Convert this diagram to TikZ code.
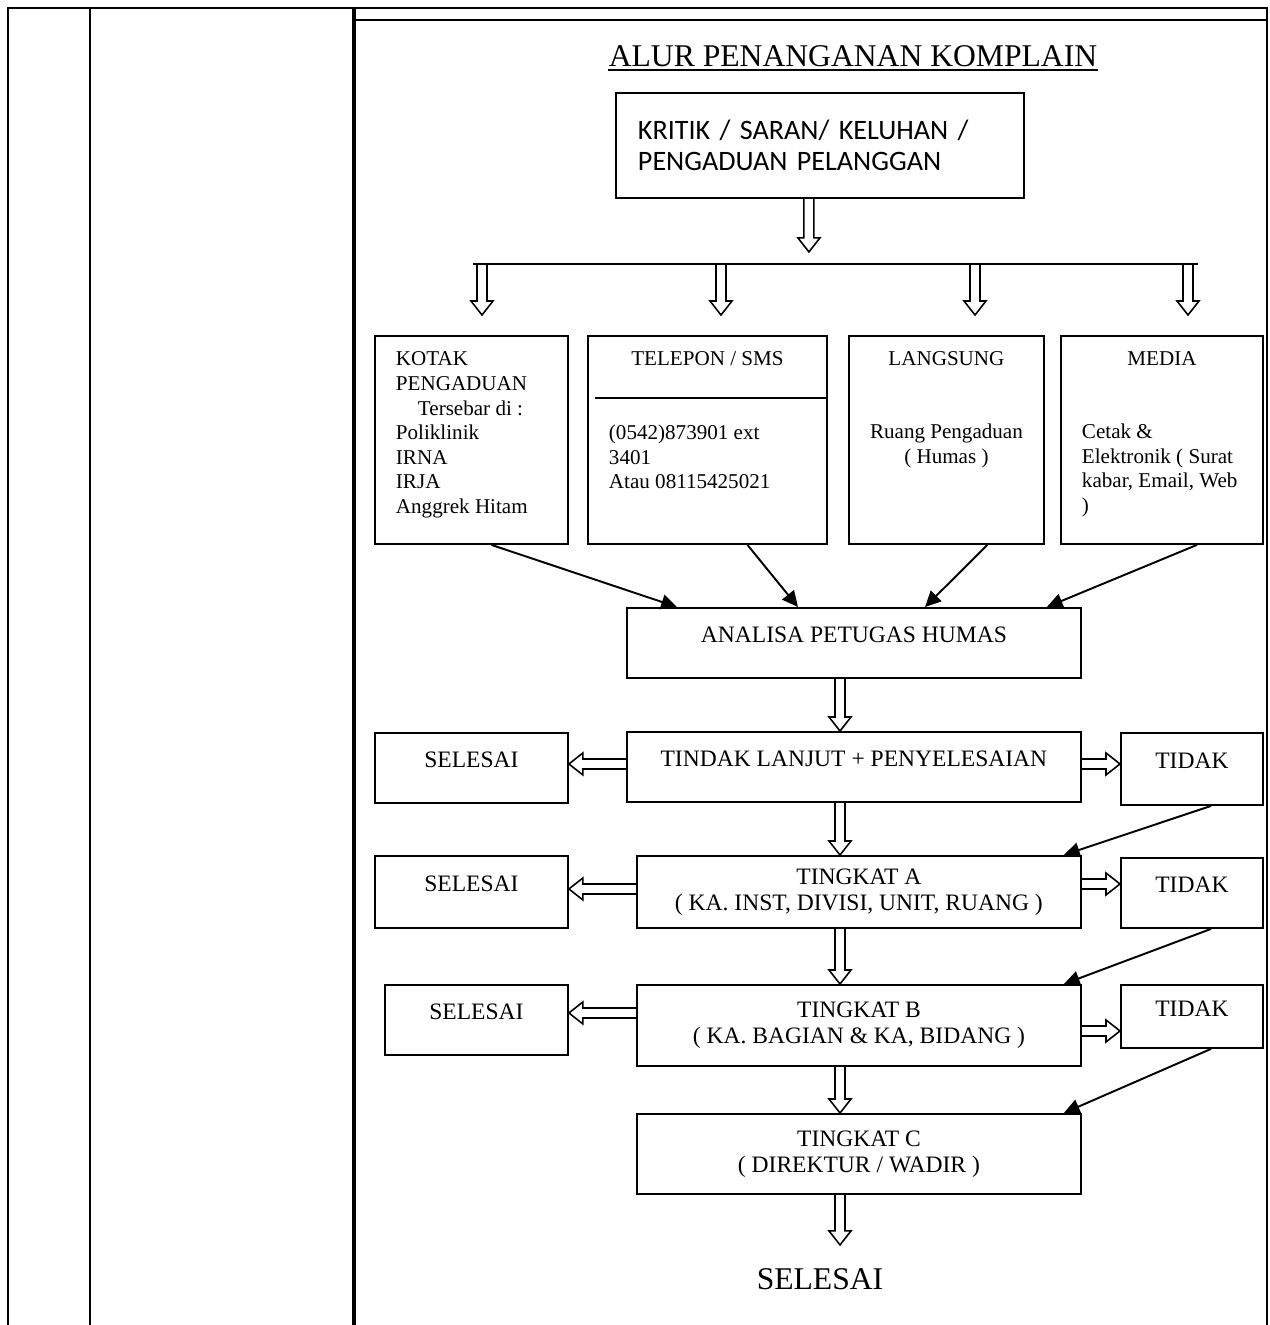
\documentclass[tikz,border=0pt]{standalone}
\usepackage{fontspec}
\setmainfont{Liberation Serif}
\newfontfamily\calibri{Carlito}
\usetikzlibrary{arrows.meta,calc,positioning}

\tikzset{
  box/.style={draw, line width=1.1pt, anchor=north west, align=center, inner sep=0pt, font=\fontsize{13.4}{15}\selectfont},
  oneline/.style={text height=9pt, text depth=9pt},
  srcbox/.style={draw, line width=1.1pt, anchor=north west, inner xsep=0.42cm, inner ysep=0.32cm, font=\fontsize{12}{14}\selectfont},
  dblarr/.style={line width=0.9pt, line join=miter},
  arr/.style={line width=1.1pt, -{Triangle[length=9pt,width=8.5pt]}},
  grid/.style={line width=1.1pt}
}

% hollow (double) arrow from #1 to #2
\newcommand{\hollowarr}[2]{%
  \coordinate (hb) at ($(#2)!0.28cm!(#1)$);
  \draw[dblarr] ($(#1)!0.1cm!90:(#2)$) -- ($(hb)!0.1cm!90:(#2)$)
    -- ($(hb)!0.22cm!90:(#2)$) -- (#2) -- ($(hb)!0.22cm!-90:(#2)$)
    -- ($(hb)!0.1cm!-90:(#2)$) -- ($(#1)!0.1cm!-90:(#2)$);
}

\begin{document}
\begin{tikzpicture}[x=0.02cm, y=-0.02cm]
    \useasboundingbox (0,0) rectangle (1270,1325);

    % Table
    \draw[grid] (8,1325) -- (8,8) -- (1267,8) -- (1267,1325);
    \draw[grid] (90,8) -- (90,1325);
    \draw[line width=2pt] (354,8) -- (354,1325);
    \draw[grid] (354,20) -- (1267,20);

    % Title
    \node[inner sep=0pt, font=\fontsize{18}{20}\selectfont] (title) at (853,56) {ALUR PENANGANAN KOMPLAIN};
    \draw[line width=1.2pt] ($(title.base west)+(0,4)$) -- ($(title.base east)+(0,4)$);

    % Source
    \node[draw, line width=1.1pt, anchor=north west, minimum width=8.16cm, minimum height=2.1cm,
          text width=7.28cm, inner xsep=0.44cm, align=left, font=\calibri\fontsize{16}{17.5}\selectfont]
          (kritik) at (615,92) {KRITIK / SARAN/ KELUHAN /\\PENGADUAN PELANGGAN};

    \coordinate (k1) at ($(kritik.south)+(-11,0)$);
    \coordinate (k2) at ($(k1)+(0,53)$);
    \hollowarr{k1}{k2}

    % Bus
    \coordinate (busl) at (473,264);
    \coordinate (busr) at (1198,264);
    \draw[grid] (busl) -- (busr);
    \foreach \bx/\nm in {482/kotak,721/tel,975/lang,1188/med} {
        \coordinate (b\nm) at (\bx,264);
        \coordinate (e\nm) at (\bx,315);
        \hollowarr{b\nm}{e\nm}
    }

    % Channels
    \node[srcbox] (kotak) at (374,335) {\parbox[t][3.52cm][t]{3.02cm}{\raggedright
        KOTAK\\PENGADUAN\\\hspace*{0.44cm}Tersebar di :\\Poliklinik\\IRNA\\IRJA\\Anggrek Hitam}};
    \node[srcbox] (tel) at (587,335) {\parbox[t][3.52cm][t]{3.94cm}{\parskip=0pt
        {\centering TELEPON / SMS\par}\vspace{28pt}\raggedright
        (0542)873901 ext\\3401\\Atau 08115425021}};
    \draw[grid] ($(tel.north west)+(8,63)$) -- ($(tel.north east)+(0,63)$);
    \node[srcbox] (lang) at (848,335) {\parbox[t][3.52cm][t]{3.06cm}{\centering
        LANGSUNG\\[27.4pt]Ruang Pengaduan\\( Humas )}};
    \node[srcbox] (med) at (1060,335) {\parbox[t][3.52cm][t]{3.2cm}{\parskip=0pt
        {\centering MEDIA\par}\vspace{27.4pt}\raggedright
        Cetak \&\\Elektronik ( Surat\\kabar, Email, Web\\)}};

    % Flow
    \node[box, oneline, minimum width=9.08cm, minimum height=1.4cm] (an) at (626,607) {ANALISA PETUGAS HUMAS};
    \node[box, oneline, minimum width=9.08cm, minimum height=1.4cm] (tindak) at (626,731) {TINDAK LANJUT + PENYELESAIAN};
    \node[box, oneline, minimum width=3.86cm, minimum height=1.4cm] (sel1) at (374,732) {SELESAI};
    \node[box, oneline, minimum width=2.84cm, minimum height=1.44cm] (tdk1) at (1120,732) {TIDAK};
    \node[box, minimum width=8.88cm, minimum height=1.44cm] (tka) at (636,855) {TINGKAT A\\( KA. INST, DIVISI, UNIT, RUANG )};
    \node[box, oneline, minimum width=3.86cm, minimum height=1.44cm] (sel2) at (374,855) {SELESAI};
    \node[box, oneline, minimum width=2.84cm, minimum height=1.4cm] (tdk2) at (1120,857) {TIDAK};
    \node[box, minimum width=8.88cm, minimum height=1.62cm] (tkb) at (636,984) {TINGKAT B\\( KA. BAGIAN \& KA, BIDANG )};
    \node[box, oneline, minimum width=3.66cm, minimum height=1.4cm] (sel3) at (384,984) {SELESAI};
    \node[box, oneline, minimum width=2.84cm, minimum height=1.26cm] (tdk3) at (1120,984) {TIDAK};
    \node[box, minimum width=8.88cm, minimum height=1.6cm] (tkc) at (636,1113) {TINGKAT C\\( DIREKTUR / WADIR )};
    \node[font=\fontsize{18}{20}\selectfont] (fin) at (820,1279) {SELESAI};

    % Channels to analysis
    \draw[arr] ($(kotak.south)+(20,0)$) -- ($(an.north west)+(51,0)$);
    \draw[arr] ($(tel.south)+(40,0)$) -- ($(an.north west)+(172,0)$);
    \draw[arr] ($(lang.south)+(41,0)$) -- ($(an.north west)+(299,0)$);
    \draw[arr] ($(med.south)+(35,0)$) -- ($(an.north east)+(-35,0)$);

    % Down the chain
    \coordinate (cx) at (840,0);
    \coordinate (d1s) at (an.south -| cx);      \coordinate (d1e) at (tindak.north -| cx);
    \coordinate (d2s) at (tindak.south -| cx);  \coordinate (d2e) at (tka.north -| cx);
    \coordinate (d3s) at (tka.south -| cx);     \coordinate (d3e) at (tkb.north -| cx);
    \coordinate (d4s) at (tkb.south -| cx);     \coordinate (d4e) at (tkc.north -| cx);
    \coordinate (d5s) at (tkc.south -| cx);     \coordinate (d5e) at ($(d5s)+(0,50)$);
    \hollowarr{d1s}{d1e}
    \hollowarr{d2s}{d2e}
    \hollowarr{d3s}{d3e}
    \hollowarr{d4s}{d4e}
    \hollowarr{d5s}{d5e}

    % Done (left)
    \coordinate (l1s) at ($(tindak.west)+(0,-3)$);   \coordinate (l1e) at (sel1.east |- l1s);
    \coordinate (l2s) at ($(tka.west)+(0,-3)$);      \coordinate (l2e) at (sel2.east |- l2s);
    \coordinate (l3s) at ($(tkb.west)+(0,-12.5)$);   \coordinate (l3e) at (sel3.east |- l3s);
    \hollowarr{l1s}{l1e}
    \hollowarr{l2s}{l2e}
    \hollowarr{l3s}{l3e}

    % Not done (right)
    \coordinate (r1s) at ($(tindak.east)+(0,-3)$);   \coordinate (r1e) at (tdk1.west |- r1s);
    \coordinate (r2s) at ($(tka.east)+(0,-8)$);      \coordinate (r2e) at (tdk2.west |- r2s);
    \coordinate (r3s) at ($(tkb.east)+(0,5.5)$);     \coordinate (r3e) at (tdk3.west |- r3s);
    \hollowarr{r1s}{r1e}
    \hollowarr{r2s}{r2e}
    \hollowarr{r3s}{r3e}

    % Escalate
    \draw[arr] ($(tdk1.south)+(19,0)$) -- ($(tka.north east)+(-18,0)$);
    \draw[arr] ($(tdk2.south)+(19,0)$) -- ($(tkb.north east)+(-18,0)$);
    \draw[arr] ($(tdk3.south)+(19,0)$) -- ($(tkc.north east)+(-18,0)$);
\end{tikzpicture}
\end{document}
